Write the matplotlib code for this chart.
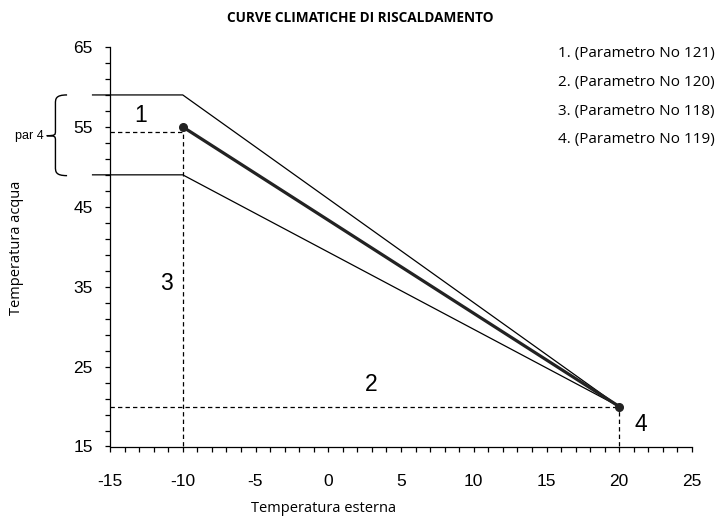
import matplotlib
matplotlib.use("Agg")
import matplotlib.pyplot as plt
from matplotlib.path import Path
from matplotlib.patches import PathPatch

# Data
x_ticks = [-15, -10, -5, 0, 5, 10, 15, 20, 25]
y_ticks = [15, 25, 35, 45, 55, 65]
x_start = -16.2
x_break = -10
x_end = 20
t_upper = 59
t_lower = 49
t_mid = 55
t_end = 20
t_dash = 54.4
legend_lines = ["1. (Parametro No 121)", "2. (Parametro No 120)",
                "3. (Parametro No 118)", "4. (Parametro No 119)"]
point_labels = ["1", "2", "3", "4"]
point_label_xy = [(-12.9, 56.4), (2.95, 22.7), (-11.1, 35.4), (21.5, 17.7)]

fig = plt.figure(figsize=(7.2, 5.2), dpi=100)
ax = fig.add_axes([110 / 720, 1 - 446.5 / 520, 582 / 720, 399.5 / 520])

num_font = "Liberation Sans"
txt_font = "Open Sans"

# upper and lower curves
ax.plot([x_start, x_break, x_end], [t_upper, t_upper, t_end], color="black", lw=0.9, clip_on=False, zorder=3)
ax.plot([x_start, x_break, x_end], [t_lower, t_lower, t_end], color="black", lw=0.9, clip_on=False, zorder=3)
# main curve
ax.plot([x_break, x_end], [t_mid, t_end], color="#222222", lw=2.3, zorder=4)
ax.plot([x_break, x_end], [t_mid, t_end], "o", color="#222222", ms=5.5, zorder=5, clip_on=False)

dash = (0, (3.5, 2.5))
ax.plot([-15, x_break], [t_dash, t_dash], color="black", lw=0.9, ls=dash)
ax.plot([x_break, x_break], [15, t_dash], color="black", lw=0.9, ls=dash)
ax.plot([-15, x_end], [t_end, t_end], color="black", lw=0.9, ls=dash)
ax.plot([x_end, x_end], [15, t_end], color="black", lw=0.9, ls=dash)

for lab, (x, y) in zip(point_labels, point_label_xy):
    ax.text(x, y, lab, fontsize=16.5, family=num_font, ha="center", va="center")

ax.set_xlim(-15, 25)
ax.set_ylim(15, 65)
ax.set_xticks(x_ticks)
ax.set_yticks(y_ticks)
ax.set_xticks(range(-15, 26), minor=True)
ax.set_yticks(range(15, 66, 2), minor=True)
ax.set_xticklabels([str(v) for v in x_ticks], fontsize=12.5, family=num_font)
ax.set_yticklabels([str(v) for v in y_ticks], fontsize=12.5, family=num_font)
ax.tick_params(axis="both", which="both", direction="out", length=3.5, width=0.9, color="black")
ax.tick_params(axis="x", which="major", pad=16)
ax.tick_params(axis="y", which="major", pad=9)
for s in ["top", "right"]:
    ax.spines[s].set_visible(False)
for s in ["left", "bottom"]:
    ax.spines[s].set_linewidth(0.9)

fig.text(324 / 720, 1 - 508 / 520, "Temperatura esterna", ha="center", va="center",
         fontsize=10.5, family=txt_font)
fig.text(17 / 720, 1 - 248 / 520, "Temperatura acqua", ha="center", va="center",
         rotation=90, fontsize=10.5, family=txt_font)

fig.text(0.5, 1 - 18 / 520, "CURVE CLIMATICHE DI RISCALDAMENTO", ha="center", va="center",
         fontsize=9.8, fontweight="bold", family=txt_font)

for i, line in enumerate(legend_lines):
    fig.text(558 / 720, 1 - (54 + i * 28.5) / 520, line, ha="left", va="center",
             fontsize=11, family=txt_font)

# brace
bx_r, bx_m, bx_tip = -17.95, -18.75, -19.35
ytop, ybot, ymid = 59.0, 48.9, 53.9
verts = [(bx_r, ytop), (bx_m, ytop), (bx_m, ytop - 0.5), (bx_m, ytop - 1.1),
         (bx_m, ymid + 0.6),
         (bx_m, ymid + 0.1), (bx_m, ymid), (bx_tip, ymid),
         (bx_m, ymid), (bx_m, ymid - 0.1), (bx_m, ymid - 0.6),
         (bx_m, ybot + 1.1),
         (bx_m, ybot + 0.5), (bx_m, ybot), (bx_r, ybot)]
codes = [Path.MOVETO, Path.CURVE4, Path.CURVE4, Path.CURVE4,
         Path.LINETO,
         Path.CURVE4, Path.CURVE4, Path.CURVE4,
         Path.CURVE4, Path.CURVE4, Path.CURVE4,
         Path.LINETO,
         Path.CURVE4, Path.CURVE4, Path.CURVE4]
ax.add_patch(PathPatch(Path(verts, codes), fill=False, lw=1.0, color="black", clip_on=False))
ax.text(-19.55, ymid, "par 4", fontsize=9, family=num_font, ha="right", va="center")

fig.savefig("out.png", dpi=100)
